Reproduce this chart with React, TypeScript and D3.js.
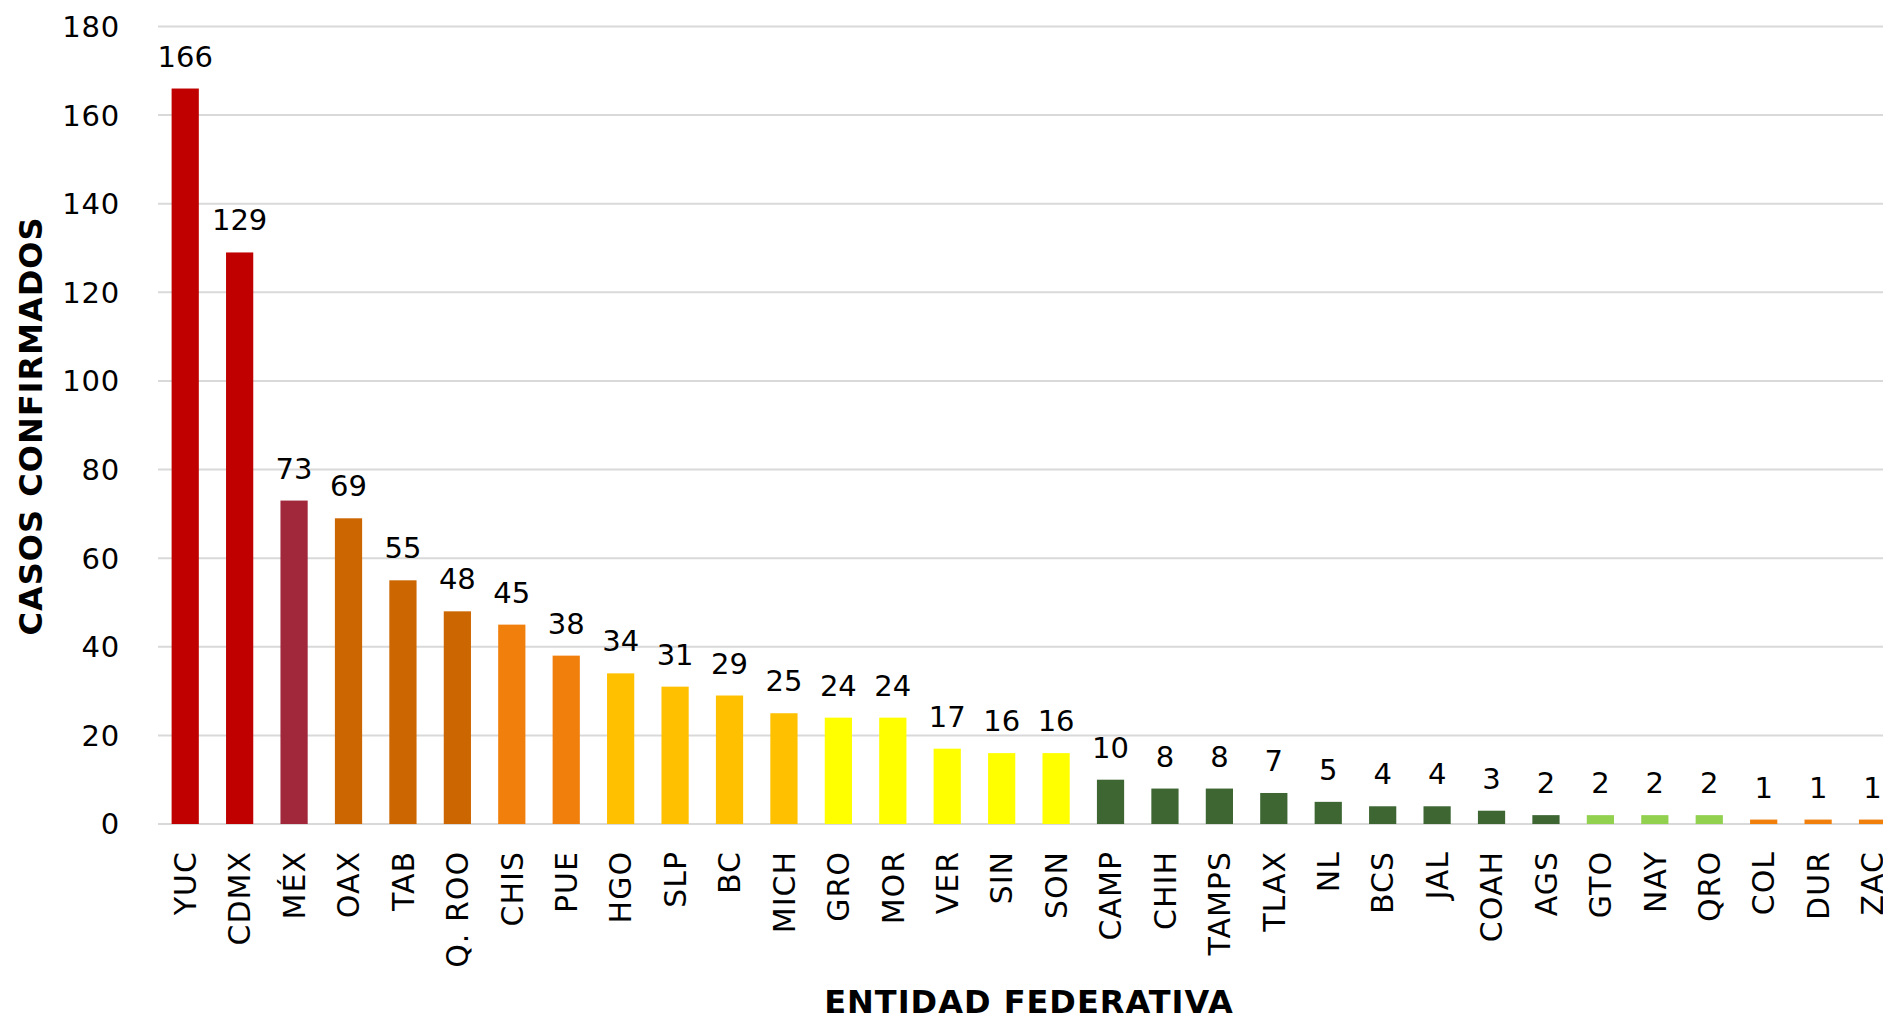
import { useEffect, useRef } from 'react'
import * as d3 from 'd3'

const states = [
  'YUC', 'CDMX', 'MÉX', 'OAX', 'TAB', 'Q. ROO', 'CHIS', 'PUE', 'HGO', 'SLP', 'BC',
  'MICH', 'GRO', 'MOR', 'VER', 'SIN', 'SON', 'CAMP', 'CHIH', 'TAMPS', 'TLAX', 'NL',
  'BCS', 'JAL', 'COAH', 'AGS', 'GTO', 'NAY', 'QRO', 'COL', 'DUR', 'ZAC',
]
const cases = [
  166, 129, 73, 69, 55, 48, 45, 38, 34, 31, 29,
  25, 24, 24, 17, 16, 16, 10, 8, 8, 7, 5,
  4, 4, 3, 2, 2, 2, 2, 1, 1, 1,
]
const barColors = [
  '#C00000', '#C00000', '#A0283A', '#CC6600', '#CC6600', '#CC6600', '#F07F0C', '#F07F0C',
  '#FFC000', '#FFC000', '#FFC000', '#FFC000', '#FFFF00', '#FFFF00', '#FFFF00', '#FFFF00',
  '#FFFF00', '#3D6633', '#3D6633', '#3D6633', '#3D6633', '#3D6633', '#3D6633', '#3D6633',
  '#3D6633', '#3D6633', '#92D050', '#92D050', '#92D050', '#F07F0C', '#F07F0C', '#F07F0C',
]
const yTicks = [0, 20, 40, 60, 80, 100, 120, 140, 160, 180]

const W = 1883
const H = 1022
const FONT = "'DejaVu Sans', sans-serif"

const App = () => {
  const svgRef = useRef<SVGSVGElement>(null)

  useEffect(() => {
    const svg = d3.select(svgRef.current)
    svg.selectAll('*').remove()

    const x = d3
      .scaleBand()
      .domain(states)
      .range([158, 158 + 54.43 * states.length])
      .paddingInner(0.5)
      .paddingOuter(0.25)
    const y = d3.scaleLinear().domain([0, 180]).range([824, 26.5])

    // gridlines
    svg
      .append('g')
      .selectAll('line')
      .data(yTicks)
      .join('line')
      .attr('x1', 158)
      .attr('x2', W)
      .attr('y1', (d) => y(d))
      .attr('y2', (d) => y(d))
      .attr('stroke', '#d9d9d9')
      .attr('stroke-width', 2)

    // y tick labels
    svg
      .append('g')
      .selectAll('text')
      .data(yTicks)
      .join('text')
      .attr('x', 120)
      .attr('y', (d) => y(d))
      .attr('dy', '0.36em')
      .attr('text-anchor', 'end')
      .attr('font-family', FONT)
      .attr('font-size', 29)
      .attr('letter-spacing', 0.8)
      .attr('fill', '#000')
      .text((d) => d)

    // bars
    svg
      .append('g')
      .selectAll('rect')
      .data(cases)
      .join('rect')
      .attr('x', (_, i) => x(states[i])!)
      .attr('width', x.bandwidth())
      .attr('y', (d) => y(d))
      .attr('height', (d) => y(0) - y(d))
      .attr('fill', (_, i) => barColors[i])

    // value labels
    svg
      .append('g')
      .selectAll('text')
      .data(cases)
      .join('text')
      .attr('x', (_, i) => x(states[i])! + x.bandwidth() / 2)
      .attr('y', (d) => y(d) - 22)
      .attr('text-anchor', 'middle')
      .attr('font-family', FONT)
      .attr('font-size', 29)
      .attr('fill', '#000')
      .text((d) => d)

    // category labels
    svg
      .append('g')
      .selectAll('text')
      .data(states)
      .join('text')
      .attr('transform', (d) => `translate(${x(d)! + x.bandwidth() / 2}, 851) rotate(-90)`)
      .attr('dy', '0.36em')
      .attr('text-anchor', 'end')
      .attr('font-family', FONT)
      .attr('font-size', 30)
      .attr('letter-spacing', 1)
      .attr('fill', '#000')
      .text((d) => d)

    // axis titles
    svg
      .append('text')
      .attr('x', 1029)
      .attr('y', 1013)
      .attr('text-anchor', 'middle')
      .attr('font-family', FONT)
      .attr('font-size', 32)
      .attr('font-weight', 700)
      .attr('letter-spacing', 1)
      .attr('fill', '#000')
      .text('ENTIDAD FEDERATIVA')

    svg
      .append('text')
      .attr('transform', 'translate(42, 426) rotate(-90)')
      .attr('text-anchor', 'middle')
      .attr('font-family', FONT)
      .attr('font-size', 32)
      .attr('font-weight', 700)
      .attr('letter-spacing', 1)
      .attr('fill', '#000')
      .text('CASOS CONFIRMADOS')
  }, [])

  return (
    <svg
      ref={svgRef}
      width={W}
      height={H}
      style={{ position: 'absolute', left: 0, top: 0, display: 'block', background: '#fff' }}
    ></svg>
  )
}

export default App
